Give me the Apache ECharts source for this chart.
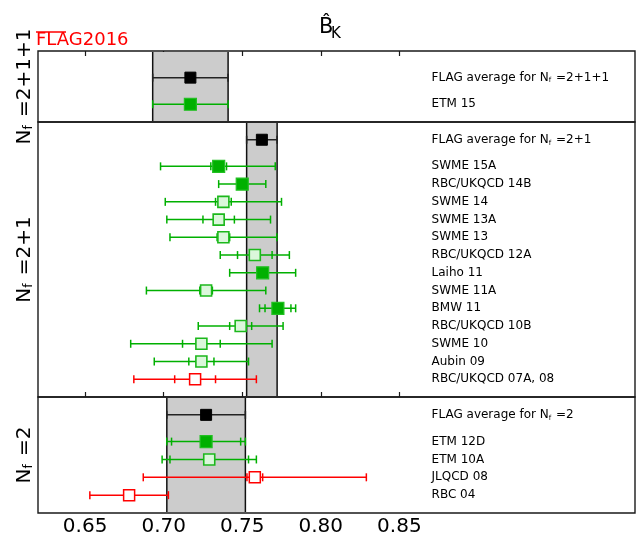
<!DOCTYPE html>
<html><head><meta charset="utf-8">
<script src="https://cdn.jsdelivr.net/npm/echarts@6/dist/echarts.min.js"></script>
<style>html,body{margin:0;padding:0;background:#fff}#c{width:637px;height:541px}</style>
</head><body><div id="c"></div>
<script>
// ---------------- data ----------------
const xTicks = [0.65, 0.70, 0.75, 0.80, 0.85];
const panelTitles = ["N_f =2+1+1", "N_f =2+1", "N_f =2"];

// N_f = 2+1+1
const names211 = ["FLAG average for N_f =2+1+1", "ETM 15"];
const central211 = [0.717, 0.717];
const totLo211 = [0.693, 0.693];
const totHi211 = [0.741, 0.741];
const statLo211 = [null, null];
const statHi211 = [null, null];
const kind211 = ["avg", "fill"];

// N_f = 2+1
const names21 = ["FLAG average for N_f =2+1", "SWME 15A", "RBC/UKQCD 14B", "SWME 14", "SWME 13A", "SWME 13",
  "RBC/UKQCD 12A", "Laiho 11", "SWME 11A", "BMW 11", "RBC/UKQCD 10B", "SWME 10", "Aubin 09", "RBC/UKQCD 07A, 08"];
const central21 = [0.7625, 0.735, 0.750, 0.738, 0.735, 0.738, 0.758, 0.763, 0.727, 0.7727, 0.749, 0.724, 0.724, 0.720];
const totLo21 = [0.7528, 0.698, 0.735, 0.701, 0.702, 0.704, 0.736, 0.742, 0.689, 0.761, 0.722, 0.679, 0.694, 0.681];
const totHi21 = [0.7722, 0.771, 0.765, 0.775, 0.768, 0.772, 0.780, 0.784, 0.765, 0.784, 0.776, 0.769, 0.754, 0.759];
const statLo21 = [null, 0.730, null, 0.733, 0.725, 0.734, 0.747, null, 0.723, 0.7645, 0.742, 0.712, 0.716, 0.707];
const statHi21 = [null, 0.740, null, 0.743, 0.745, 0.742, 0.769, null, 0.731, 0.781, 0.756, 0.736, 0.732, 0.733];
const kind21 = ["avg", "fill", "fill", "open", "open", "open", "open", "fill", "open", "fill", "open", "open", "open", "red"];

// N_f = 2
const names2 = ["FLAG average for N_f =2", "ETM 12D", "ETM 10A", "JLQCD 08", "RBC 04"];
const central2 = [0.727, 0.727, 0.729, 0.758, 0.678];
const totLo2 = [0.702, 0.702, 0.699, 0.687, 0.653];
const totHi2 = [0.752, 0.752, 0.759, 0.829, 0.703];
const statLo2 = [null, 0.705, 0.704, 0.753, null];
const statHi2 = [null, 0.749, 0.754, 0.763, null];
const kind2 = ["avg", "fill", "open", "red", "red"];

// ---------------- layout / style ----------------
const FONT = "DejaVu Sans";
const X_MIN = 0.62, X_MAX = 1.0, LABEL_X = 0.8705;
const GREEN = "#00b000";
const STYLE = {
  avg:  {line: "#222", fill: "#000", mstroke: "#000", mlw: 1},
  fill: {line: GREEN, fill: GREEN, mstroke: "#22c022", mlw: 1.2},
  open: {line: GREEN, fill: "#dbf7db", mstroke: "#1cb81c", mlw: 1.6},
  red:  {line: "#ff0000", fill: "#ffffff", mstroke: "#ff0000", mlw: 1.5}
};

const panels = [
  {names: names211, central: central211, totLo: totLo211, totHi: totHi211, statLo: statLo211, statHi: statHi211, kind: kind211,
   top: 51, height: 71, rows: 4, first: 1.5},
  {names: names21, central: central21, totLo: totLo21, totHi: totHi21, statLo: statLo21, statHi: statHi21, kind: kind21,
   top: 122, height: 275, rows: 15.5, first: 1},
  {names: names2, central: central2, totLo: totLo2, totHi: totHi2, statLo: statLo2, statHi: statHi2, kind: kind2,
   top: 397, height: 116, rows: 6.5, first: 1}
];
function rowY(p, i) { return i === 0 ? p.first : p.first + 1.5 + (i - 1); }
function richName(s) { return s.replace("N_f", "N{s|f}"); }

function vline(x, y, h, color, lw) {
  return {type: "line", shape: {x1: x, y1: y - h, x2: x, y2: y + h}, style: {stroke: color, lineWidth: lw}};
}

function bandRender(p) {
  return function (params, api) {
    const cs = params.coordSys;
    const x1 = api.coord([api.value(0), 0])[0];
    const x2 = api.coord([api.value(1), 0])[0];
    const y1 = cs.y + 1, y2 = cs.y + cs.height - 1;
    return {type: "group", children: [
      {type: "rect", shape: {x: x1, y: y1, width: x2 - x1, height: y2 - y1}, style: {fill: "#cccccc"}},
      {type: "line", shape: {x1: x1, y1: y1, x2: x1, y2: y2}, style: {stroke: "#111", lineWidth: 1.5}},
      {type: "line", shape: {x1: x2, y1: y1, x2: x2, y2: y2}, style: {stroke: "#111", lineWidth: 1.5}}
    ]};
  };
}

function barRender(p) {
  return function (params, api) {
    const i = params.dataIndex;
    const yv = api.value(1);
    const st = STYLE[p.kind[i]];
    const c = api.coord([p.central[i], yv]);
    const lo = api.coord([p.totLo[i], yv])[0];
    const hi = api.coord([p.totHi[i], yv])[0];
    const py = c[1];
    const ch = [];
    ch.push({type: "line", shape: {x1: lo, y1: py, x2: hi, y2: py}, style: {stroke: st.line, lineWidth: 1.5}});
    ch.push(vline(lo, py, 4, st.line, 1.5), vline(hi, py, 4, st.line, 1.5));
    if (p.statLo[i] != null) {
      ch.push(vline(api.coord([p.statLo[i], yv])[0], py, 4, st.line, 1.5));
      ch.push(vline(api.coord([p.statHi[i], yv])[0], py, 4, st.line, 1.5));
    }
    const ms = p.kind[i] === "fill" ? 12 : 11;
    ch.push({type: "rect", shape: {x: c[0] - ms / 2, y: py - ms / 2, width: ms, height: ms},
      style: {fill: st.fill, stroke: st.mstroke, lineWidth: st.mlw}});
    const lx = api.coord([LABEL_X, yv])[0];
    ch.push({type: "text", x: lx, y: py, style: {
      text: richName(p.names[i]), fontSize: 12, fontFamily: FONT, fill: "#000",
      align: "left", verticalAlign: "middle",
      rich: {s: {fontSize: 7, fontFamily: FONT, fill: "#000", verticalAlign: "bottom", padding: [6, 1, 0, 0]}}
    }});
    return {type: "group", children: ch};
  };
}

const grids = [], xAxes = [], yAxes = [], series = [];
panels.forEach(function (p, k) {
  grids.push({left: 38, right: 2, top: p.top, height: p.height, show: true,
    borderColor: "#1a1a1a", borderWidth: 1.4, backgroundColor: "transparent"});
  const isTop = k === 0, isBottom = k === panels.length - 1;
  xAxes.push({
    type: "value", gridIndex: k, min: X_MIN, max: X_MAX,
    position: isTop ? "top" : "bottom",
    axisLine: {show: false}, splitLine: {show: false},
    axisTick: {show: isTop || isBottom, inside: true, length: 5, customValues: xTicks,
      lineStyle: {color: "#1a1a1a", width: 1.2}},
    axisLabel: {show: isBottom, customValues: xTicks, margin: 4,
      formatter: function (v) { return v.toFixed(2); },
      fontSize: 20, fontFamily: FONT, color: "#000"}
  });
  yAxes.push({
    type: "value", gridIndex: k, min: 0, max: p.rows, inverse: true,
    axisLine: {show: false}, axisTick: {show: false}, axisLabel: {show: false}, splitLine: {show: false},
    name: richName(panelTitles[k]), nameLocation: "middle", nameRotate: 90, nameGap: 3,
    nameTextStyle: {fontSize: 20, fontFamily: FONT, color: "#000",
      rich: {s: {fontSize: 12, fontFamily: FONT, color: "#000", verticalAlign: "bottom", padding: [8, 2, 0, 0]}}}
  });
  const avgIdx = p.kind.indexOf("avg");
  series.push({
    type: "custom", xAxisIndex: k, yAxisIndex: k, z: 1, silent: true,
    data: [[p.totLo[avgIdx], p.totHi[avgIdx]]],
    encode: {x: [0, 1]},
    renderItem: bandRender(p)
  });
  series.push({
    type: "custom", xAxisIndex: k, yAxisIndex: k, z: 3, silent: true,
    data: p.central.map(function (v, i) { return [v, rowY(p, i)]; }),
    encode: {x: 0, y: 1},
    renderItem: barRender(p)
  });
});

const chart = echarts.init(document.getElementById("c"), null, {renderer: "canvas"});
chart.setOption({
  animation: false,
  backgroundColor: "#fff",
  grid: grids, xAxis: xAxes, yAxis: yAxes, series: series,
  graphic: [
    {type: "text", left: 319, top: 17, style: {text: "B\u0302", fontSize: 21, fontFamily: FONT, fill: "#000"}},
    {type: "text", left: 331, top: 27, style: {text: "K", fontSize: 15, fontFamily: FONT, fill: "#000"}},
    {type: "text", left: 36, top: 31, style: {text: "FLAG2016", fontSize: 18, fontFamily: FONT, fill: "#ff0000"}},
    {type: "line", shape: {x1: 36, y1: 32, x2: 66, y2: 32}, style: {stroke: "#ff0000", lineWidth: 1.5}}
  ]
});
</script></body></html>
